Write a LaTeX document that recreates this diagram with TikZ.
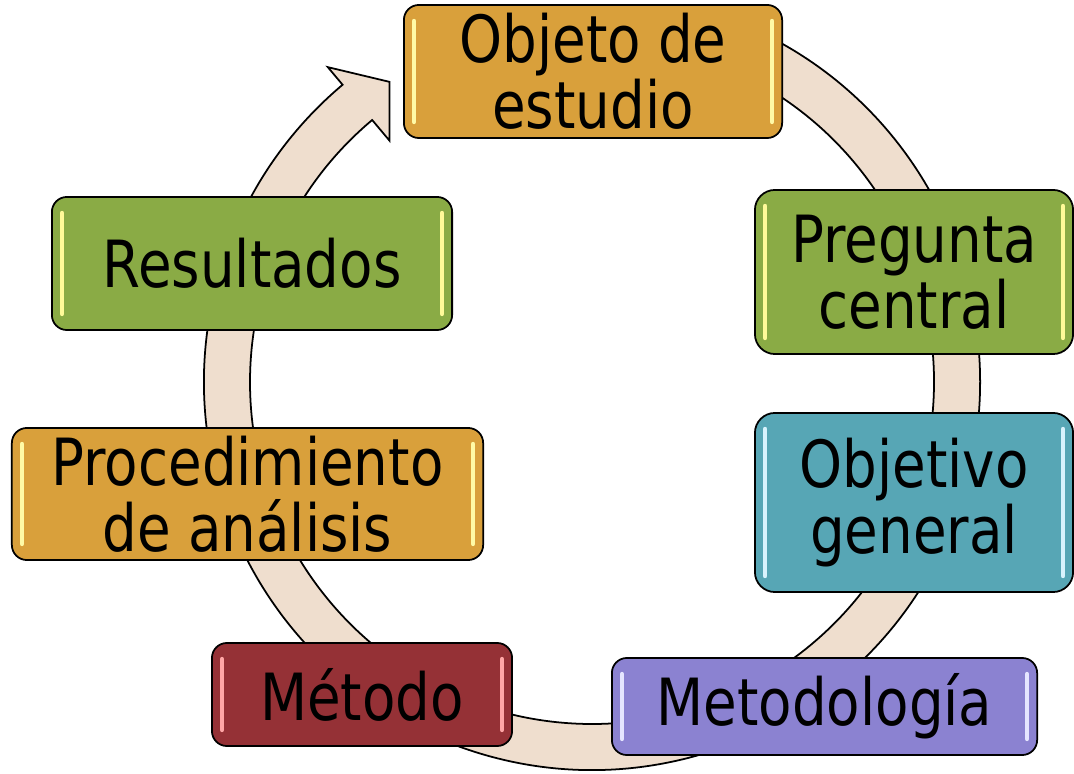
\documentclass[tikz,border=0pt]{standalone}
\usepackage{fontspec}
\setmainfont{DejaVu Sans}[FakeStretch=0.84]
\usetikzlibrary{calc}
\definecolor{naranja}{HTML}{D9A03B}
\definecolor{verde}{HTML}{8AAB45}
\definecolor{turquesa}{HTML}{57A6B5}
\definecolor{morado}{HTML}{8B82D1}
\definecolor{granate}{HTML}{953136}
\definecolor{anillo}{HTML}{EFDECE}
\tikzset{
    caja/.style = {draw = black, line width = 0.5pt, rounded corners = 0.15cm, align = center,
        inner sep = 0pt, font = \fontsize{18.5}{18.8}\selectfont},
    brillo/.style = {line width = 1.3pt, line cap = round},
}

\begin{document}
\begin{tikzpicture}[x = 0.01cm, y = -0.01cm]
    \useasboundingbox (0,0) rectangle (1074,774);
    \clip (0,0) rectangle (1074,774);
    \coordinate (centro) at (592,382);
    % anillo con punta de flecha
    \draw [fill = anillo, line width = 0.5pt]
        ($(centro)+(-70:388)$) arc [start angle = -70, end angle = 230, radius = 388]
        -- ($(centro)+(230:411)$) -- ($(centro)+(236:362)$) -- ($(centro)+(230:315)$)
        -- ($(centro)+(230:342)$) arc [start angle = 230, end angle = -70, radius = 342] -- cycle;
    % cajas
    \node [caja, fill = naranja, minimum width = 3.78cm, minimum height = 1.33cm] (objeto) at (593,71.5) {Objeto de\\estudio};
    \node [caja, fill = verde, rounded corners = 0.2cm, minimum width = 3.18cm, minimum height = 1.64cm] (pregunta) at (914,272) {Pregunta\\central};
    \node [caja, fill = turquesa, rounded corners = 0.2cm, minimum width = 3.18cm, minimum height = 1.79cm] (objetivo) at (914,502.5) {Objetivo\\general};
    \node [caja, fill = morado, minimum width = 4.25cm, minimum height = 0.97cm] (metodologia) at (824.5,706.5) {Metodología};
    \node [caja, fill = granate, minimum width = 3.00cm, minimum height = 1.03cm] (metodo) at (362,694.5) {Método};
    \node [caja, fill = naranja, minimum width = 4.71cm, minimum height = 1.32cm] (procedimiento) at (247.5,494) {Procedimiento\\de análisis};
    \node [caja, fill = verde, minimum width = 4.00cm, minimum height = 1.33cm] (resultados) at (252,263.5) {Resultados};
    % brillos a los lados
    \foreach \n/\col in {objeto/yellow!35!white, pregunta/yellow!40!white, objetivo/cyan!15!white,
        metodologia/blue!10!white, metodo/red!35!white, procedimiento/yellow!35!white, resultados/yellow!40!white} {
        \draw [brillo, draw = \col] ([shift = {(11,17)}]\n.north west) -- ([shift = {(11,-17)}]\n.south west);
        \draw [brillo, draw = \col] ([shift = {(-11,17)}]\n.north east) -- ([shift = {(-11,-17)}]\n.south east);
    }
\end{tikzpicture}
\end{document}
